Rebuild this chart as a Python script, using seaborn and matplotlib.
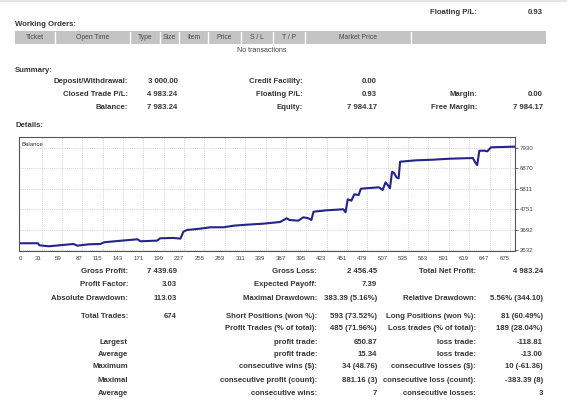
"""
Recreate a trading-terminal style account statement: summary text blocks
around a balance curve.

Output:
    out.png
"""

from __future__ import annotations

import matplotlib

matplotlib.use("Agg")

import matplotlib.pyplot as plt
import pandas as pd
import seaborn as sns
from matplotlib.lines import Line2D
from matplotlib.patches import Rectangle


FIG_W, FIG_H = 567, 400

# balance curve (trade number, balance)
TRADE_NO = [
    0, 26, 28, 41, 56, 75, 80, 96, 112, 117, 136, 163, 167, 190, 194, 212,
    222, 226, 231, 249, 263, 281, 295, 313, 336, 359, 368, 372, 384, 391,
    398, 402, 405, 423, 446, 449, 452, 457, 461, 467, 470, 482, 495, 500,
    504, 507, 510, 513, 516, 519, 522, 524, 546, 569, 592, 624, 628, 630,
    633, 640, 644, 649, 682,
]
BALANCE = [
    3000, 3000, 2895, 2843, 2895, 2962, 2875, 2945, 2962, 3050, 3117, 3204,
    3101, 3135, 3256, 3273, 3239, 3596, 3684, 3751, 3823, 3823, 3906, 3957,
    4009, 4096, 4287, 4199, 4165, 4339, 4287, 4199, 4627, 4700, 4751, 4596,
    5267, 5195, 5525, 5488, 5813, 5849, 5885, 5746, 6143, 6004, 5834, 6690,
    6607, 6401, 6350, 7205, 7278, 7309, 7360, 7396, 7123, 7035, 7773, 7773,
    7742, 7948, 7983,
]

X_TICKS = [0, 31, 59, 87, 115, 143, 171, 199, 227, 255, 283, 311, 339, 367,
           395, 423, 451, 479, 507, 535, 563, 591, 619, 647, 675]
Y_TICKS = [2632, 3692, 4751, 5811, 6870, 7930]

ORDER_COLUMNS = ["Ticket", "Open Time", "Type", "Size", "Item", "Price",
                 "S / L", "T / P", "Market Price", ""]

SUMMARY_ROWS = [
    ["Deposit/Withdrawal:", "3 000.00", "Credit Facility:", "0.00", "", ""],
    ["Closed Trade P/L:", "4 983.24", "Floating P/L:", "0.93", "Margin:", "0.00"],
    ["Balance:", "7 983.24", "Equity:", "7 984.17", "Free Margin:", "7 984.17"],
]

DETAIL_ROWS = [
    ["Gross Profit:", "7 439.69", "Gross Loss:", "2 456.45",
     "Total Net Profit:", "4 983.24"],
    ["Profit Factor:", "3.03", "Expected Payoff:", "7.39", "", ""],
    ["Absolute Drawdown:", "113.03", "Maximal Drawdown:", "383.39 (5.16%)",
     "Relative Drawdown:", "5.56% (344.10)"],
    ["Total Trades:", "674", "Short Positions (won %):", "593 (73.52%)",
     "Long Positions (won %):", "81 (60.49%)"],
    ["", "", "Profit Trades (% of total):", "485 (71.96%)",
     "Loss trades (% of total):", "189 (28.04%)"],
    ["Largest", "", "profit trade:", "650.87", "loss trade:", "-118.81"],
    ["Average", "", "profit trade:", "15.34", "loss trade:", "-13.00"],
    ["Maximum", "", "consecutive wins ($):", "34 (48.76)",
     "consecutive losses ($):", "10 (-61.36)"],
    ["Maximal", "", "consecutive profit (count):", "881.16 (3)",
     "consecutive loss (count):", "-383.39 (8)"],
    ["Average", "", "consecutive wins:", "7", "consecutive losses:", "3"],
]

TEXT_COLOR = "#363636"
FONT = ["Liberation Sans", "DejaVu Sans"]


def setup_style() -> None:
    sns.set_theme(style="white", rc={"figure.dpi": 100})
    plt.rcParams["font.family"] = FONT


def fx(x: float) -> float:
    return x / FIG_W


def fy(y: float) -> float:
    return 1 - y / FIG_H


def put(fig, x, y, s, ha="right", size=5.6, weight="bold", color=TEXT_COLOR):
    if s:
        fig.text(fx(x), fy(y), s, ha=ha, va="center", fontsize=size,
                 fontweight=weight, color=color)


def draw_header(fig) -> None:
    fig.add_artist(Line2D([0, 1], [fy(0.5), fy(0.5)], color="#e2e2e2", lw=1.2))
    put(fig, 477, 12.7, "Floating P/L:")
    put(fig, 543, 12.7, "0.93")
    put(fig, 15, 25, "Working Orders:", ha="left")

    fig.add_artist(Rectangle((fx(14.5), fy(43.5)), fx(545.5) - fx(14.5),
                             fy(31.5) - fy(43.5), color="#c4c4c4", lw=0))
    seps = [14.5, 55, 130, 160, 179.3, 208.3, 240.7, 272.7, 304.7, 411.3, 545.5]
    for i, name in enumerate(ORDER_COLUMNS):
        if i > 0:
            fig.add_artist(Line2D([fx(seps[i])] * 2, [fy(31.5), fy(43.5)],
                                  color="white", lw=1.0))
        put(fig, (seps[i] + seps[i + 1]) / 2, 37.6, name, ha="center",
            size=4.9, weight="normal", color="#4a4a4a")
    put(fig, 261.5, 51, "No transactions", ha="center", size=5.1,
        weight="normal", color="#444444")


def draw_summary(fig) -> None:
    put(fig, 15, 70, "Summary:", ha="left")
    xs = [128.3, 177.5, 302.5, 377, 477, 543]
    for row, y in zip(SUMMARY_ROWS, [81.7, 94.3, 107.3]):
        for s, x in zip(row, xs):
            put(fig, x, y, s)
    put(fig, 15, 125.5, "Details:", ha="left")


def draw_chart(fig) -> None:
    left, right, top, bottom = 19, 515, 137, 251
    ax = fig.add_axes([fx(left), fy(bottom), fx(right) - fx(left),
                       fy(top) - fy(bottom)])
    df = pd.DataFrame({"trade": TRADE_NO, "balance": BALANCE})
    sns.lineplot(data=df, x="trade", y="balance", color="#24248a",
                 linewidth=1.5, ax=ax)
    ax.set_xlim(0, 682)
    ax.set_ylim(2600, 8480)
    ax.set_xticks(X_TICKS)
    ax.set_xticklabels([str(v) for v in X_TICKS])
    for i, lab in enumerate(ax.get_xticklabels()):
        lab.set_ha("left" if i == 0 else "right")
    ax.set_yticks(Y_TICKS)
    ax.yaxis.tick_right()
    ax.tick_params(axis="both", length=2, width=0.6, color="#555555",
                   labelsize=4.4, labelcolor="#444444", pad=1.5)
    ax.grid(True, linestyle=(0, (1, 1.5)), linewidth=0.55, color="#c0c0c0")
    ax.set_xlabel("")
    ax.set_ylabel("")
    for sp in ax.spines.values():
        sp.set_color("#555555")
        sp.set_linewidth(0.8)
        sp.set_visible(True)
    ax.text(0.006, 0.96, "Balance", transform=ax.transAxes, ha="left",
            va="top", fontsize=4.3, color="#333333")


def draw_details(fig) -> None:
    xs = [128, 177, 317, 377, 476, 543]
    ys = [271.7, 285, 298.3, 316.7, 329, 342.3, 354.3, 367, 380, 393.3]
    for row, y in zip(DETAIL_ROWS, ys):
        for s, x in zip(row, xs):
            put(fig, x, y, s)


def main() -> None:
    setup_style()
    fig = plt.figure(figsize=(FIG_W / 100, FIG_H / 100), dpi=100)
    fig.patch.set_facecolor("white")
    draw_header(fig)
    draw_summary(fig)
    draw_chart(fig)
    draw_details(fig)
    fig.savefig("out.png", dpi=100, facecolor="white")
    plt.close(fig)


if __name__ == "__main__":
    main()
